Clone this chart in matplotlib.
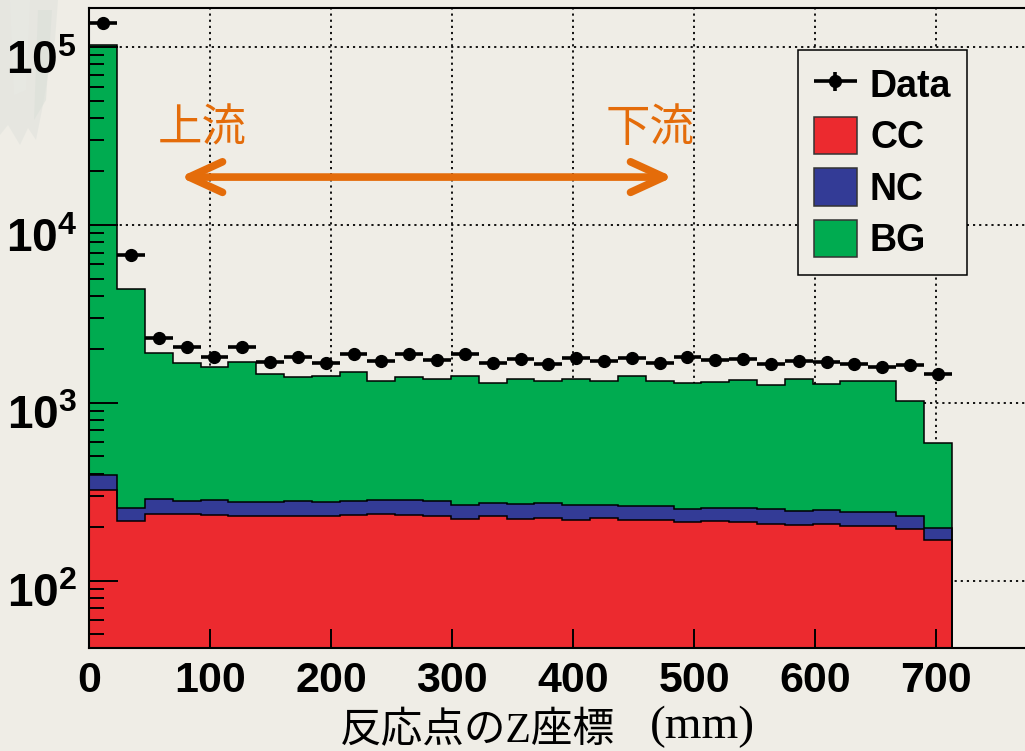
import numpy as np
import matplotlib
matplotlib.use('Agg')
import matplotlib.pyplot as plt
import matplotlib.patches as mpatches
import matplotlib.transforms as mtransforms
from matplotlib.container import ErrorbarContainer
from matplotlib.legend_handler import HandlerErrorbar
from matplotlib.ticker import LogLocator, NullFormatter

plt.rcParams['mathtext.fontset'] = 'custom'
plt.rcParams['mathtext.rm'] = 'Liberation Sans'
plt.rcParams['mathtext.bf'] = 'Liberation Sans:bold'

# 31 bins of 23 mm along Z
bin_width = 23
data = [136000, 6780, 2310, 2070, 1800, 2060, 1690, 1800, 1670, 1880, 1710,
        1880, 1750, 1880, 1670, 1760, 1660, 1780, 1710, 1780, 1670, 1810,
        1750, 1760, 1660, 1710, 1690, 1660, 1590, 1630, 1460]
cc = [324, 218, 238, 236, 234, 230, 232, 232, 232, 234, 238, 234, 230, 222,
      230, 223, 226, 220, 224, 220, 220, 215, 218, 213, 208, 207, 208, 204,
      204, 195, 170]
nc = [70, 38, 50, 46, 51, 47, 45, 48, 45, 46, 46, 50, 50, 45, 45, 47, 46,
      45, 41, 42, 42, 38, 40, 43, 45, 41, 43, 41, 41, 37, 28]
bg = [102600, 4110, 1610, 1390, 1315, 1430, 1180, 1110, 1130, 1210, 1045,
      1105, 1080, 1145, 1015, 1090, 1060, 1095, 1065, 1150, 1070, 1035, 1060,
      1095, 1005, 1110, 1030, 1085, 1085, 790, 400]
labels = ['Data', 'CC', 'NC', 'BG']
x_ticks = [0, 100, 200, 300, 400, 500, 600, 700]
y_decades = [1e2, 1e3, 1e4, 1e5]

BGCOL = '#efede6'
RED = '#ec2a2f'
BLUE = '#333b96'
GREEN = '#00ab50'
ORANGE = '#e46c0a'

edges = np.arange(len(data) + 1) * bin_width
centers = edges[:-1] + bin_width / 2
cc = np.array(cc, float)
nc = np.array(nc, float)
bg = np.array(bg, float)
data = np.array(data, float)

fig = plt.figure(figsize=(10.25, 7.51), dpi=100, facecolor=BGCOL)
W, H = 1025.0, 751.0


def px(xs, ys):
    return [(x / W, 1 - y / H) for x, y in zip(xs, ys)]


# faint slide texture in the upper left corner
for xs, ys, c in [
    ([0, 58, 55, 48, 42, 36, 28, 20, 8, 0], [0, 0, 40, 75, 110, 140, 128, 145, 125, 135], '#dfe2dc'),
    ([10, 30, 26, 14], [0, 0, 90, 95], '#e8eae5'),
    ([38, 52, 46, 34], [10, 10, 100, 120], '#dadfd8'),
]:
    fig.patches.append(mpatches.Polygon(px(xs, ys), closed=True, transform=fig.transFigure,
                                        facecolor=c, edgecolor='none', alpha=0.55, zorder=-1))

ax = fig.add_axes([89.3 / W, 102.7 / H, (1040 - 89.3) / W, 640.3 / H])
ax.set_facecolor('none')
ax.set_yscale('log')
ax.set_xlim(0, 786)
ax.set_ylim(41.7, 1.66e5)

# dotted grid under the histograms
grid_kw = dict(color='k', lw=1.3, linestyle=(0, (1.2, 2.2)), zorder=0.5)
for xv in x_ticks[1:]:
    ax.axvline(xv, **grid_kw)
for yv in y_decades:
    ax.axhline(yv, **grid_kw)

# stacked histograms: BG on top of NC on top of CC
layers = [(cc + nc + bg, GREEN), (cc + nc, BLUE), (cc, RED)]
for vals, col in layers:
    ax.stairs(vals, edges, baseline=1, fill=True, color=col, zorder=1)
    ax.stairs(vals, edges, baseline=1, color='k', lw=1.1, zorder=1.1)

eb = ax.errorbar(centers, data, xerr=bin_width / 2, yerr=np.sqrt(data), fmt='o',
                 color='k', ms=8.5, elinewidth=2.6, capsize=0, zorder=5)

# upstream / downstream arrow
arrow_y = 1.86e4
arr = mpatches.FancyArrowPatch((75, arrow_y), (482.6, arrow_y),
                               arrowstyle='<->,head_length=2.4,head_width=1.1',
                               mutation_scale=10, lw=5.5, color=ORANGE,
                               shrinkA=0, shrinkB=0,
                               capstyle='round', joinstyle='round', zorder=4)
ax.add_patch(arr)
cjk = ['Noto Sans CJK JP', 'DejaVu Sans']
ax.text(93, 3.5e4, '上流', color=ORANGE, fontsize=32, family=cjk, ha='center', va='center', zorder=4)
ax.text(464, 3.5e4, '下流', color=ORANGE, fontsize=32, family=cjk, ha='center', va='center', zorder=4)

# axes styling
for side in ['left', 'bottom', 'top']:
    ax.spines[side].set_linewidth(1.5)
ax.spines['right'].set_visible(False)

ax.set_xticks(x_ticks)
ax.set_xticklabels([str(v) for v in x_ticks], fontsize=31, fontweight='bold', family='Liberation Sans')
ax.tick_params(axis='x', which='major', direction='in', length=14, width=1.4, pad=9)
ax.tick_params(axis='x', which='minor', bottom=False)

ax.set_yticks(y_decades, labels=[r'$\mathbf{10^{%d}}$' % round(np.log10(v)) for v in y_decades])
ax.yaxis.set_minor_locator(LogLocator(base=10, subs=np.arange(2, 10), numticks=20))
ax.yaxis.set_minor_formatter(NullFormatter())
ax.tick_params(axis='y', which='major', direction='in', length=21, width=1.4, pad=9, labelsize=33)
ax.tick_params(axis='y', which='minor', direction='in', length=11, width=1.4)
shift = mtransforms.ScaledTranslation(0, -6.5 / 72, fig.dpi_scale_trans)
for lab in ax.get_yticklabels():
    lab.set_transform(lab.get_transform() + shift)

# axis title: kanji part and a larger serif unit
fig.text(340 / W, 1 - 742 / H, '反応点のZ座標', fontsize=30,
         family=['Liberation Serif', 'Noto Sans CJK JP'], ha='left', va='baseline')
fig.text(650 / W, 1 - 738 / H, '(mm)', fontsize=34,
         family='Liberation Serif', ha='left', va='baseline')

handles = [eb] + [mpatches.Patch(facecolor=c, edgecolor='#333333', lw=1.1) for c in (RED, BLUE, GREEN)]
leg = ax.legend(handles, labels, loc='upper left', bbox_to_anchor=(798 / W, 1 - 50 / H),
                bbox_transform=fig.transFigure, borderaxespad=0,
                handler_map={ErrorbarContainer: HandlerErrorbar(xerr_size=0.57, yerr_size=0.25)},
                prop={'family': 'Liberation Sans', 'weight': 'bold', 'size': 27},
                handlelength=1.15, handleheight=1.15, labelspacing=0.32, handletextpad=0.35,
                borderpad=0.42, fancybox=False, framealpha=1, facecolor=BGCOL, edgecolor='k')
leg.get_frame().set_linewidth(1.1)
leg.set_zorder(6)

fig.savefig('out.png', dpi=100, facecolor=BGCOL)
